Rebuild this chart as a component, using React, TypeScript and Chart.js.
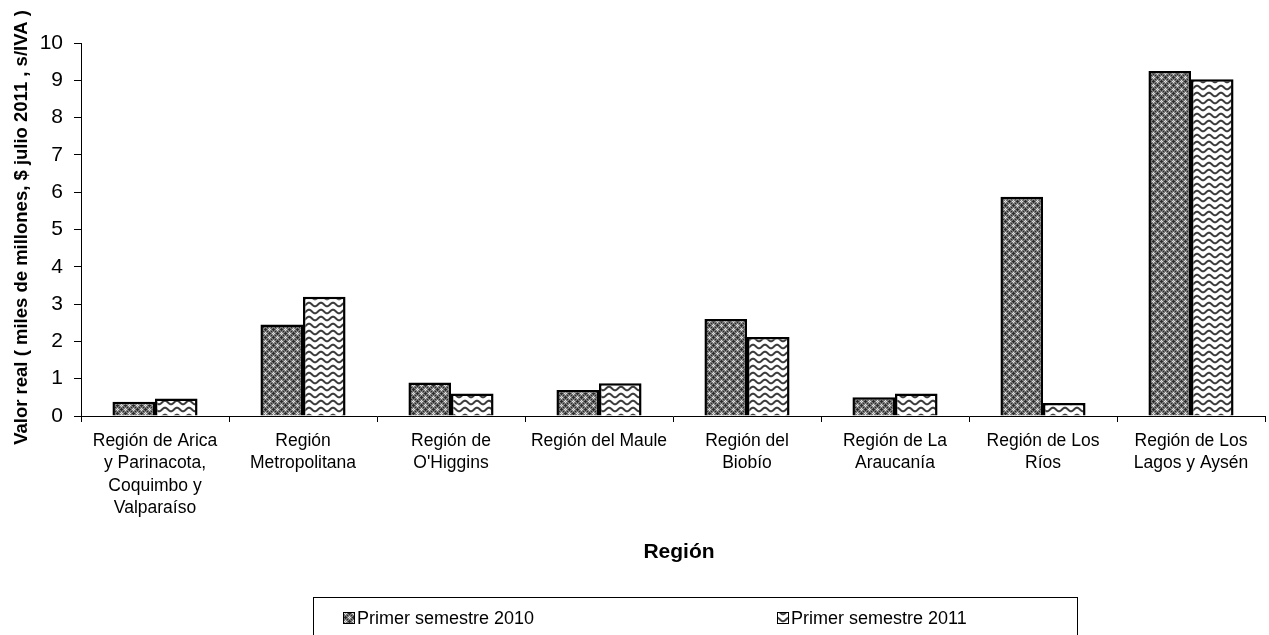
import React, { useEffect, useRef } from 'react';
import { Chart, registerables } from 'chart.js';

Chart.register(...registerables);

const categories: string[][] = [
  ['Región de Arica', 'y Parinacota,', 'Coquimbo y', 'Valparaíso'],
  ['Región', 'Metropolitana'],
  ['Región de', "O'Higgins"],
  ['Región del Maule'],
  ['Región del', 'Biobío'],
  ['Región de La', 'Araucanía'],
  ['Región de Los', 'Ríos'],
  ['Región de Los', 'Lagos y Aysén'],
];
const series2010 = [0.38, 2.45, 0.9, 0.7, 2.6, 0.5, 5.88, 9.25];
const series2011 = [0.47, 3.2, 0.6, 0.88, 2.12, 0.6, 0.35, 9.03];
const seriesNames = ['Primer semestre 2010', 'Primer semestre 2011'];
const yMin = 0;
const yMax = 10;
const yStep = 1;
const xTitle = 'Región';
const yTitle = 'Valor real ( miles de millones, $ julio 2011 , s/IVA )';

const FONT = '"Liberation Sans", Arial, sans-serif';

function makePattern1(): CanvasPattern | string {
  const map = [
    'GDGGGWGG',
    'DDDGWLWG',
    'GDGGGWGG',
    'GGGDGGGD',
    'GWGGGDGG',
    'WLWGDDDG',
    'GWGGGDGG',
    'GGGDGGGD',
  ];
  const colors: Record<string, string> = { G: '#767676', D: '#2c2c2c', W: '#e0e0e0', L: '#a8a8a8' };
  const c = document.createElement('canvas');
  c.width = 8;
  c.height = 8;
  const g = c.getContext('2d')!;
  for (let y = 0; y < 8; y++) {
    for (let x = 0; x < 8; x++) {
      g.fillStyle = colors[map[y][x]];
      g.fillRect(x, y, 1, 1);
    }
  }
  return g.createPattern(c, 'repeat') || '#666';
}

function makePattern2(): CanvasPattern | string {
  const w = 12;
  const h = 7;
  const c = document.createElement('canvas');
  c.width = w;
  c.height = h;
  const g = c.getContext('2d')!;
  g.fillStyle = '#ffffff';
  g.fillRect(0, 0, w, h);
  g.strokeStyle = '#3c3c3c';
  g.lineWidth = 2;
  g.beginPath();
  for (let x = -1; x <= w + 1; x += 0.5) {
    const y = 3.5 + 1.8 * Math.sin((2 * Math.PI * x) / w);
    if (x === -1) g.moveTo(x, y);
    else g.lineTo(x, y);
  }
  g.stroke();
  return g.createPattern(c, 'repeat') || '#ddd';
}

export default function App() {
  const ref = useRef<HTMLCanvasElement | null>(null);

  useEffect(() => {
    if (!ref.current) return;
    const pat1 = makePattern1();
    const pat2 = makePattern2();
    const patterns = [pat1, pat2];

    const decor = {
      id: 'decor',
      afterDraw(chart: any) {
        const ctx = chart.ctx as CanvasRenderingContext2D;
        const area = chart.chartArea;
        ctx.save();
        ctx.fillStyle = '#000';
        // x title
        ctx.font = `bold 21px ${FONT}`;
        ctx.textAlign = 'center';
        ctx.textBaseline = 'alphabetic';
        ctx.fillText(xTitle, 679, 558);
        // y title
        ctx.save();
        ctx.translate(27, (area.top + area.bottom) / 2 - 2);
        ctx.rotate(-Math.PI / 2);
        ctx.font = `bold 18.5px ${FONT}`;
        ctx.fillText(yTitle, 0, 0);
        ctx.restore();
        // legend box
        ctx.strokeStyle = '#000';
        ctx.lineWidth = 1;
        ctx.strokeRect(313.5, 597.5, 764, 60);
        const items = [
          { x: 343, label: seriesNames[0] },
          { x: 777, label: seriesNames[1] },
        ];
        ctx.font = `18px ${FONT}`;
        ctx.textAlign = 'left';
        ctx.textBaseline = 'middle';
        items.forEach((it, i) => {
          ctx.fillStyle = patterns[i] as any;
          ctx.fillRect(it.x, 612, 12, 12);
          ctx.strokeStyle = '#000';
          ctx.strokeRect(it.x + 0.5, 612.5, 11, 11);
          ctx.fillStyle = '#000';
          ctx.fillText(it.label, it.x + 14, 619);
        });
        ctx.restore();
      },
    };

    const chart = new Chart(ref.current, {
      type: 'bar',
      data: {
        labels: categories as any,
        datasets: [
          {
            label: seriesNames[0],
            data: series2010,
            backgroundColor: pat1 as any,
            borderColor: '#000',
            borderWidth: 2.5,
            categoryPercentage: 0.575,
            barPercentage: 1,
          },
          {
            label: seriesNames[1],
            data: series2011,
            backgroundColor: pat2 as any,
            borderColor: '#000',
            borderWidth: 2.5,
            categoryPercentage: 0.575,
            barPercentage: 1,
          },
        ],
      },
      options: {
        responsive: false,
        animation: false,
        events: [],
        layout: { padding: { top: 43, right: 4, left: 0, bottom: 0 } },
        plugins: {
          legend: { display: false },
          tooltip: { enabled: false },
          title: { display: false },
        },
        scales: {
          x: {
            grid: {
              offset: true,
              drawOnChartArea: false,
              drawTicks: true,
              tickLength: 6,
              color: '#000',
            },
            border: { color: '#000', width: 1 },
            ticks: {
              color: '#000',
              font: { family: FONT, size: 17.5, lineHeight: 1.28 },
              maxRotation: 0,
              minRotation: 0,
              autoSkip: false,
              padding: 8,
            },
            afterFit: (s: any) => {
              s.height = 635 - 416;
            },
          },
          y: {
            min: yMin,
            max: yMax,
            ticks: {
              stepSize: yStep,
              color: '#000',
              font: { family: FONT, size: 21 },
              padding: 11,
            },
            grid: {
              drawOnChartArea: false,
              drawTicks: true,
              tickLength: 7,
              color: '#000',
            },
            border: { color: '#000', width: 1 },
            afterFit: (s: any) => {
              s.width = 81;
            },
          },
        },
      },
      plugins: [decor],
    });
    return () => chart.destroy();
  }, []);

  return (
    <div style={{ position: 'fixed', left: 0, top: 0, width: 1269, height: 635, background: '#fff' }}>
      <canvas ref={ref} width={1269} height={635} style={{ display: 'block' }} />
    </div>
  );
}
